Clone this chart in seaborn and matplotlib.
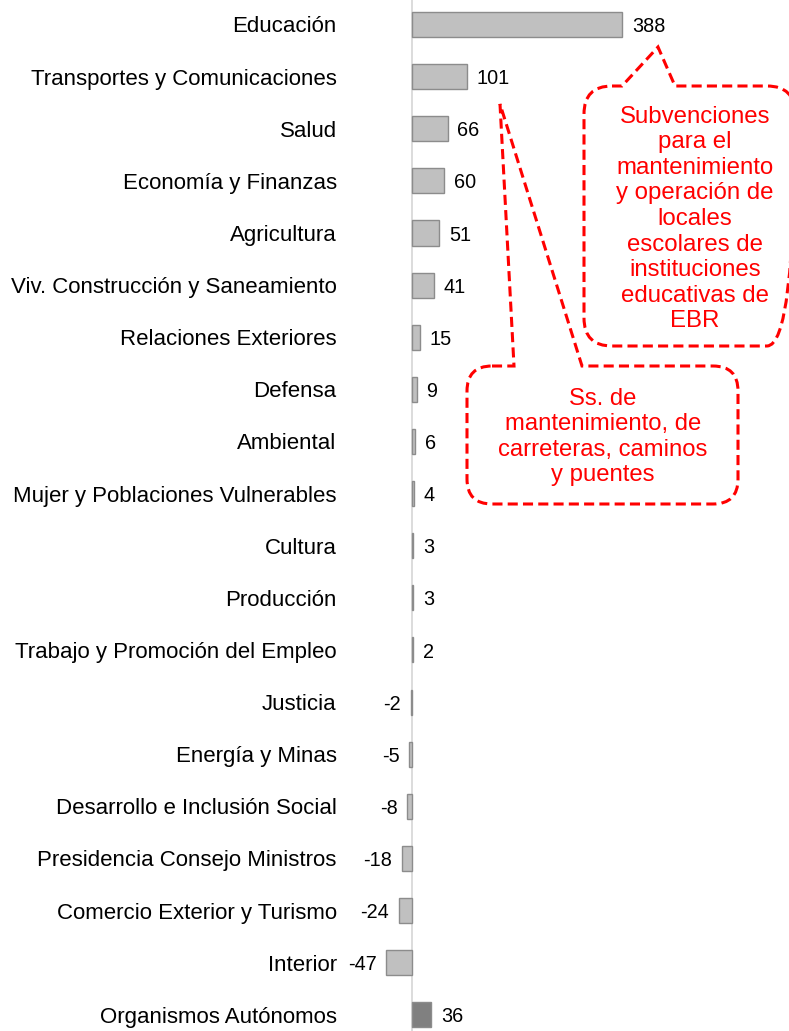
import numpy as np
import matplotlib.pyplot as plt
import pandas as pd
import seaborn as sns
from matplotlib.path import Path
from matplotlib.patches import PathPatch

sectores = [
    "Educación", "Transportes y Comunicaciones", "Salud", "Economía y Finanzas",
    "Agricultura", "Viv. Construcción y Saneamiento", "Relaciones Exteriores",
    "Defensa", "Ambiental", "Mujer y Poblaciones Vulnerables", "Cultura",
    "Producción", "Trabajo y Promoción del Empleo", "Justicia", "Energía y Minas",
    "Desarrollo e Inclusión Social", "Presidencia Consejo Ministros",
    "Comercio Exterior y Turismo", "Interior", "Organismos Autónomos",
]
montos = [388, 101, 66, 60, 51, 41, 15, 9, 6, 4, 3, 3, 2, -2, -5, -8, -18, -24, -47, 36]
grupos = ["Sector"] * 19 + ["Organismos"]

nota_educacion = ("Subvenciones\npara el\nmantenimiento\ny operación de\nlocales\n"
                  "escolares de\ninstituciones\neducativas de\nEBR")
nota_transportes = "Ss. de\nmantenimiento, de\ncarreteras, caminos\ny puentes"

W, H = 789, 1031

df = pd.DataFrame({"sector": sectores, "monto": montos, "grupo": grupos})

sns.set_theme(style="white")
plt.rcParams['font.family'] = ['Liberation Sans', 'DejaVu Sans']

fig = plt.figure(figsize=(W / 100, H / 100), dpi=100)
ax = fig.add_axes([345 / W, 0, 1 - 345 / W, 1])

sns.barplot(data=df, y="sector", x="monto", hue="grupo", orient="h",
            palette={"Sector": "#c0c0c0", "Organismos": "#808080"},
            dodge=False, width=0.48, edgecolor="#8c8c8c", linewidth=1,
            legend=False, ax=ax)

for c in ax.containers:
    etiquetas = ax.bar_label(c, fmt="%d", padding=7, fontsize=14.3, color="black")
    for t in etiquetas:
        # bajar un poco las etiquetas para centrarlas con la barra
        t.xyann = (t.xyann[0], -1.5)

ax.axvline(0, color="#d9d9d9", lw=1.3, zorder=0)
ax.set_xlim(-123.2, 696)
ax.set_ylim(19.31, -0.47)
ax.set_xticks([])
ax.set_xlabel("")
ax.set_ylabel("")
ax.tick_params(axis="y", length=0, pad=6, labelsize=16, labelcolor="black")
sns.despine(ax=ax, left=True, bottom=True)


def callout(x0, y0, x1, y1, r, wl, wr, tip):
    # rectangulo redondeado con cuña en el borde superior (pixeles, origen arriba)
    verts = [(x0 + r, y0), (wl, y0), tip, (wr, y0), (x1 - r, y0),
             (x1, y0), (x1, y0 + r), (x1, y1 - r), (x1, y1), (x1 - r, y1),
             (x0 + r, y1), (x0, y1), (x0, y1 - r), (x0, y0 + r), (x0, y0), (x0 + r, y0)]
    codes = [Path.MOVETO, Path.LINETO, Path.LINETO, Path.LINETO, Path.LINETO,
             Path.CURVE3, Path.CURVE3, Path.LINETO, Path.CURVE3, Path.CURVE3,
             Path.LINETO, Path.CURVE3, Path.CURVE3, Path.LINETO, Path.CURVE3, Path.CURVE3]
    verts = [(x / W, 1 - y / H) for x, y in verts]
    p = PathPatch(Path(verts, codes), transform=fig.transFigure, facecolor="none",
                  edgecolor="red", lw=2.2, linestyle=(0, (3.3, 1.7)))
    fig.add_artist(p)


callout(584, 86, 795, 346, 28, 622, 675, (658, 47))
callout(467, 366, 738, 504, 25, 514, 582, (500, 104))

fig.text(695 / W, 1 - 219 / H, nota_educacion, ha="center", va="center",
         color="red", fontsize=17.3, linespacing=1.21)
fig.text(603 / W, 1 - 437 / H, nota_transportes, ha="center", va="center",
         color="red", fontsize=17.2, linespacing=1.21)

fig.savefig("out.png", dpi=100)
